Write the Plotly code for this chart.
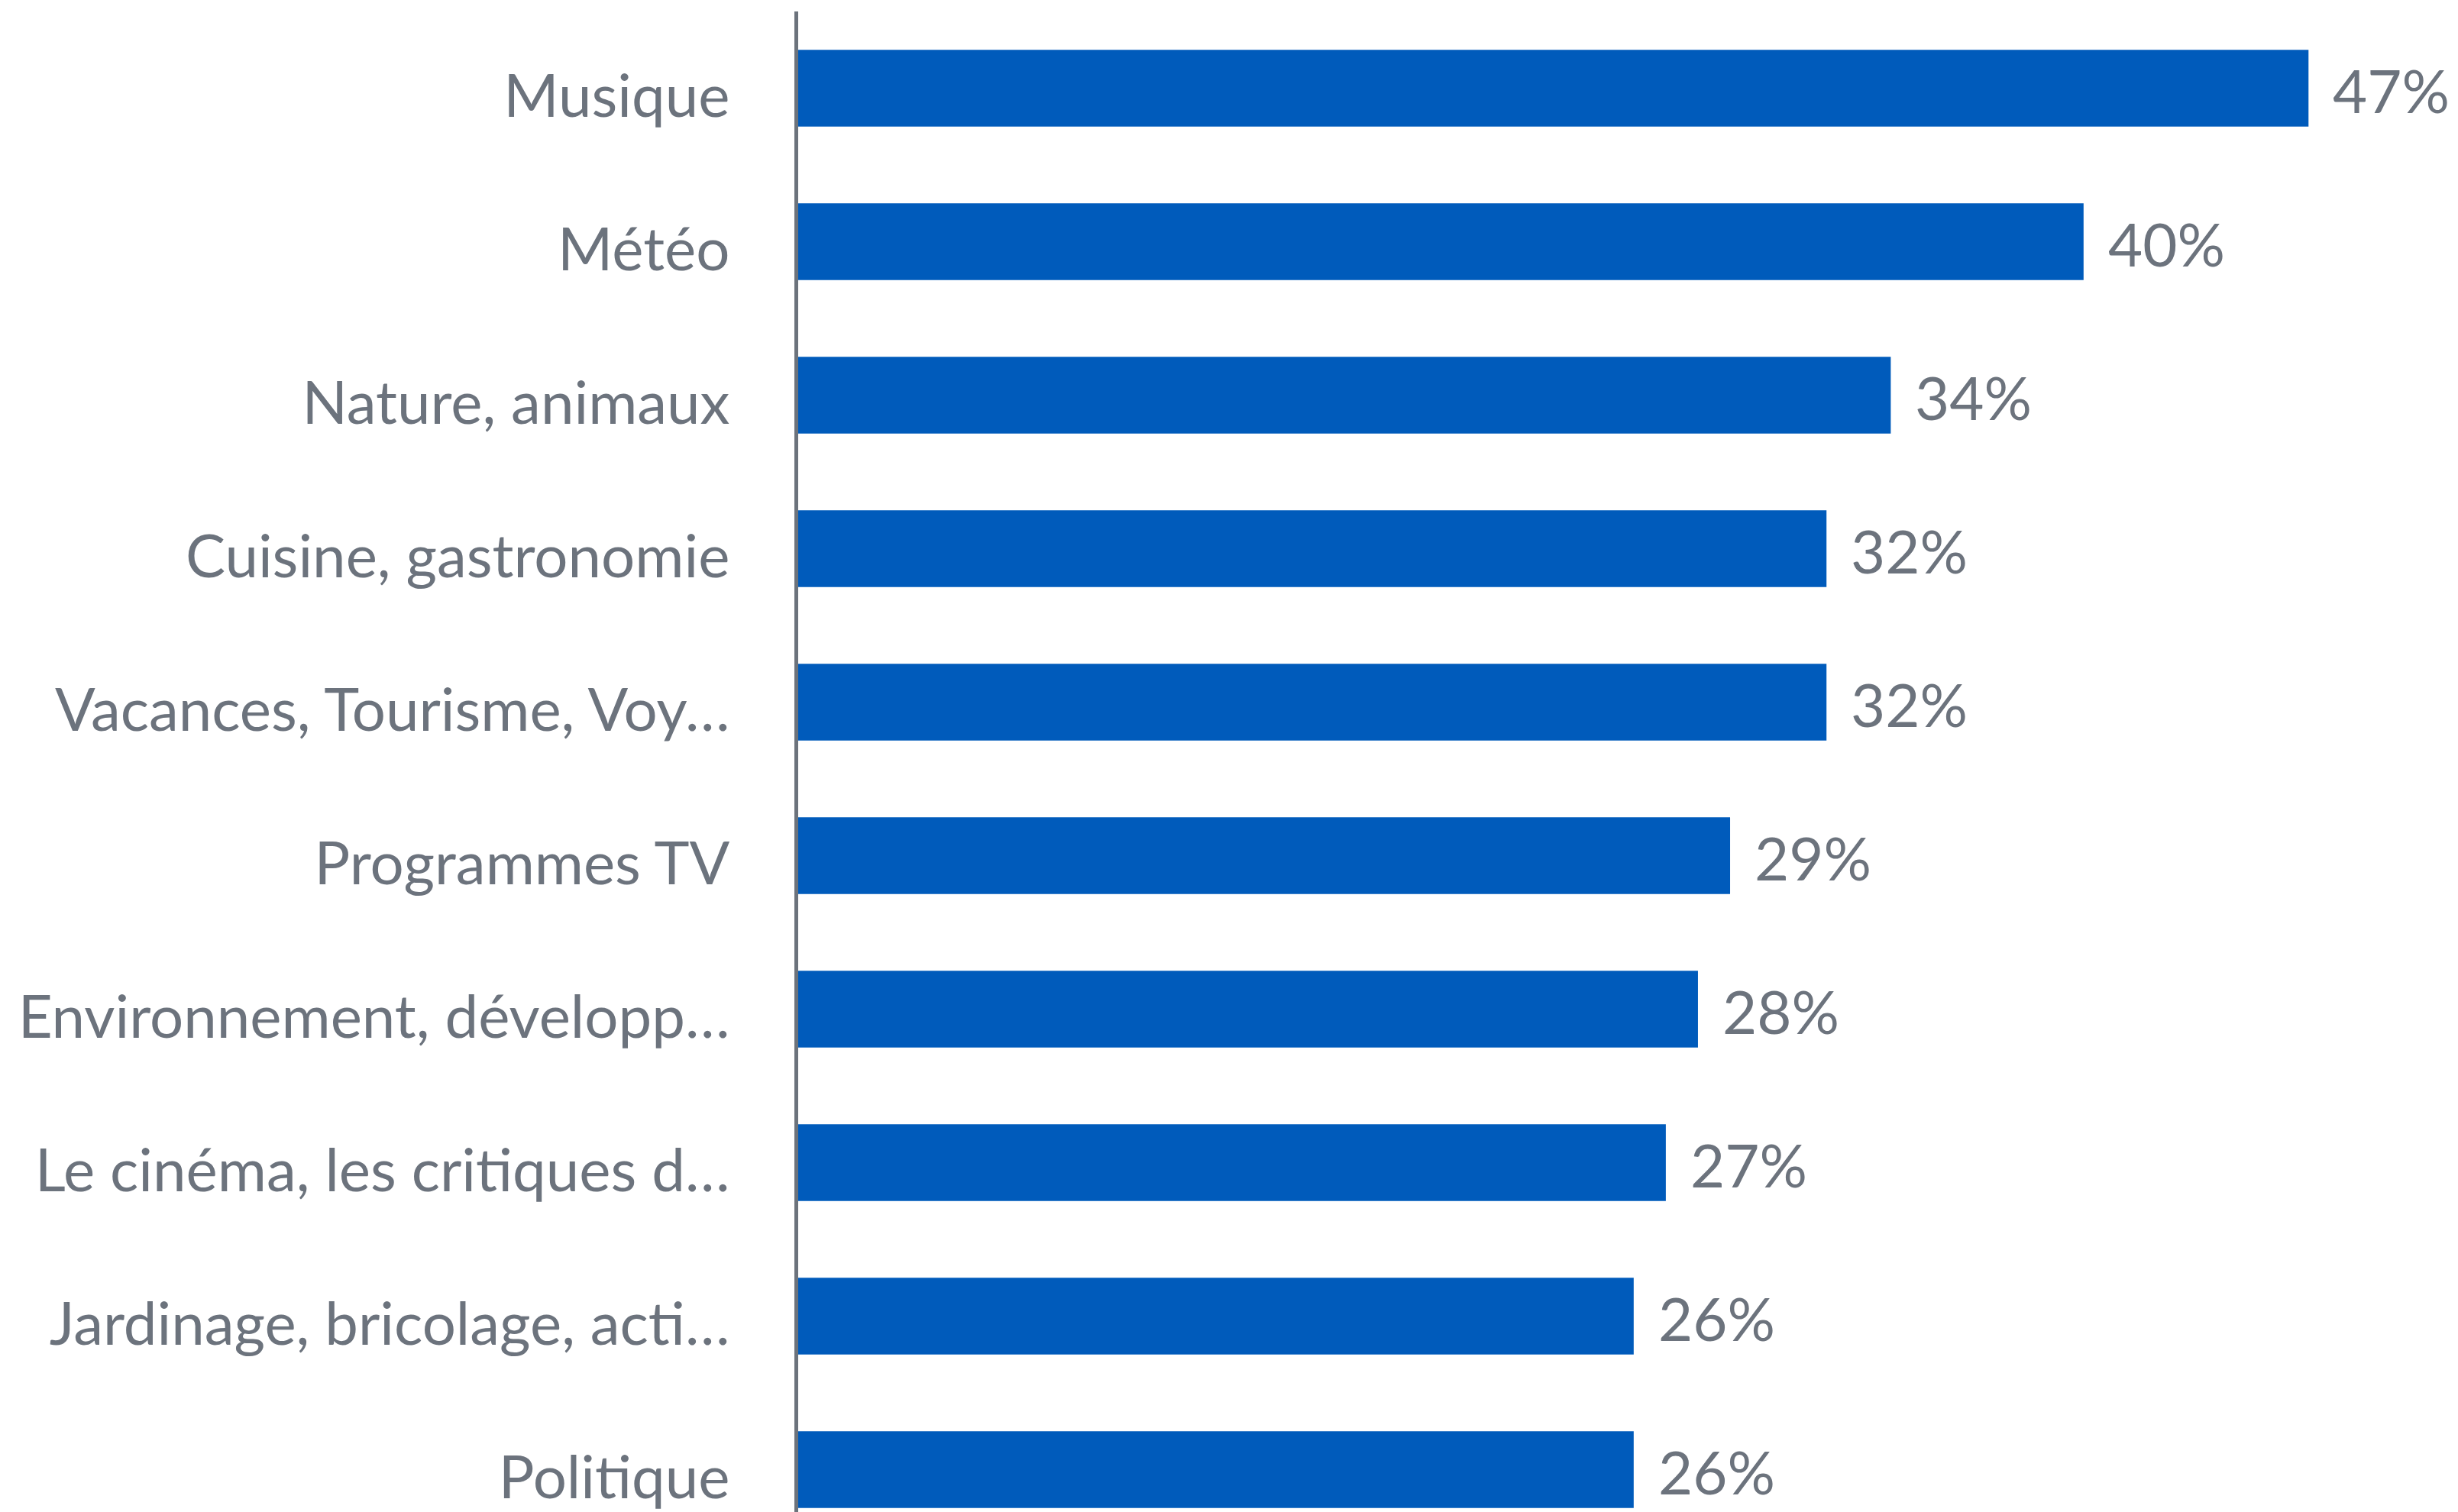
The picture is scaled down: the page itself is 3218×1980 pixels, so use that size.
import plotly.graph_objects as go

# Centres d'intérêt (share of respondents, %)
categories = [
    "Musique",
    "Météo",
    "Nature, animaux",
    "Cuisine, gastronomie",
    "Vacances, Tourisme, Voy…",
    "Programmes TV",
    "Environnement, développ…",
    "Le cinéma, les critiques d…",
    "Jardinage, bricolage, acti…",
    "Politique",
]
values = [47, 40, 34, 32, 32, 29, 28, 27, 26, 26]
value_labels = [f"{v}%" for v in values]

BAR_COLOR = "#005BBB"
TEXT_COLOR = "#6C737D"
AXIS_COLOR = "#6C737C"
FONT = "Lato"

W, H = 3218, 1980
LEFT, TOP = 1045, 15

fig = go.Figure(
    go.Bar(
        x=values,
        y=categories,
        orientation="h",
        marker=dict(color=BAR_COLOR, line=dict(width=0)),
        hoverinfo="skip",
    )
)

# value labels to the right of each bar
for cat, v, lab in zip(categories, values, value_labels):
    fig.add_annotation(
        x=v, y=cat, text=lab, showarrow=False,
        xanchor="left", yanchor="middle", xshift=30, yshift=-2,
        font=dict(family=FONT, size=78, color=TEXT_COLOR),
    )

plot_w = W - LEFT
px_per_pct = 42.07
plot_h = H - TOP
px_per_cat = 201

fig.update_layout(
    width=W, height=H,
    margin=dict(l=LEFT, r=0, t=TOP, b=0, pad=0),
    paper_bgcolor="white", plot_bgcolor="white",
    bargap=0.5,
    showlegend=False,
    font=dict(family=FONT, color=TEXT_COLOR),
    xaxis=dict(
        range=[0, plot_w / px_per_pct],
        visible=False, showgrid=False, zeroline=False, fixedrange=True,
    ),
    yaxis=dict(
        type="category",
        categoryorder="array", categoryarray=categories,
        range=[-0.5 + plot_h / px_per_cat, -0.5],
        showline=True, linecolor=AXIS_COLOR, linewidth=5,
        showgrid=False, zeroline=False, ticks="",
        tickfont=dict(family=FONT, size=78, color=TEXT_COLOR),
        ticklabelstandoff=69,
        ticklabelshift=-10,
        fixedrange=True,
    ),
)

fig.write_html("out.html")
